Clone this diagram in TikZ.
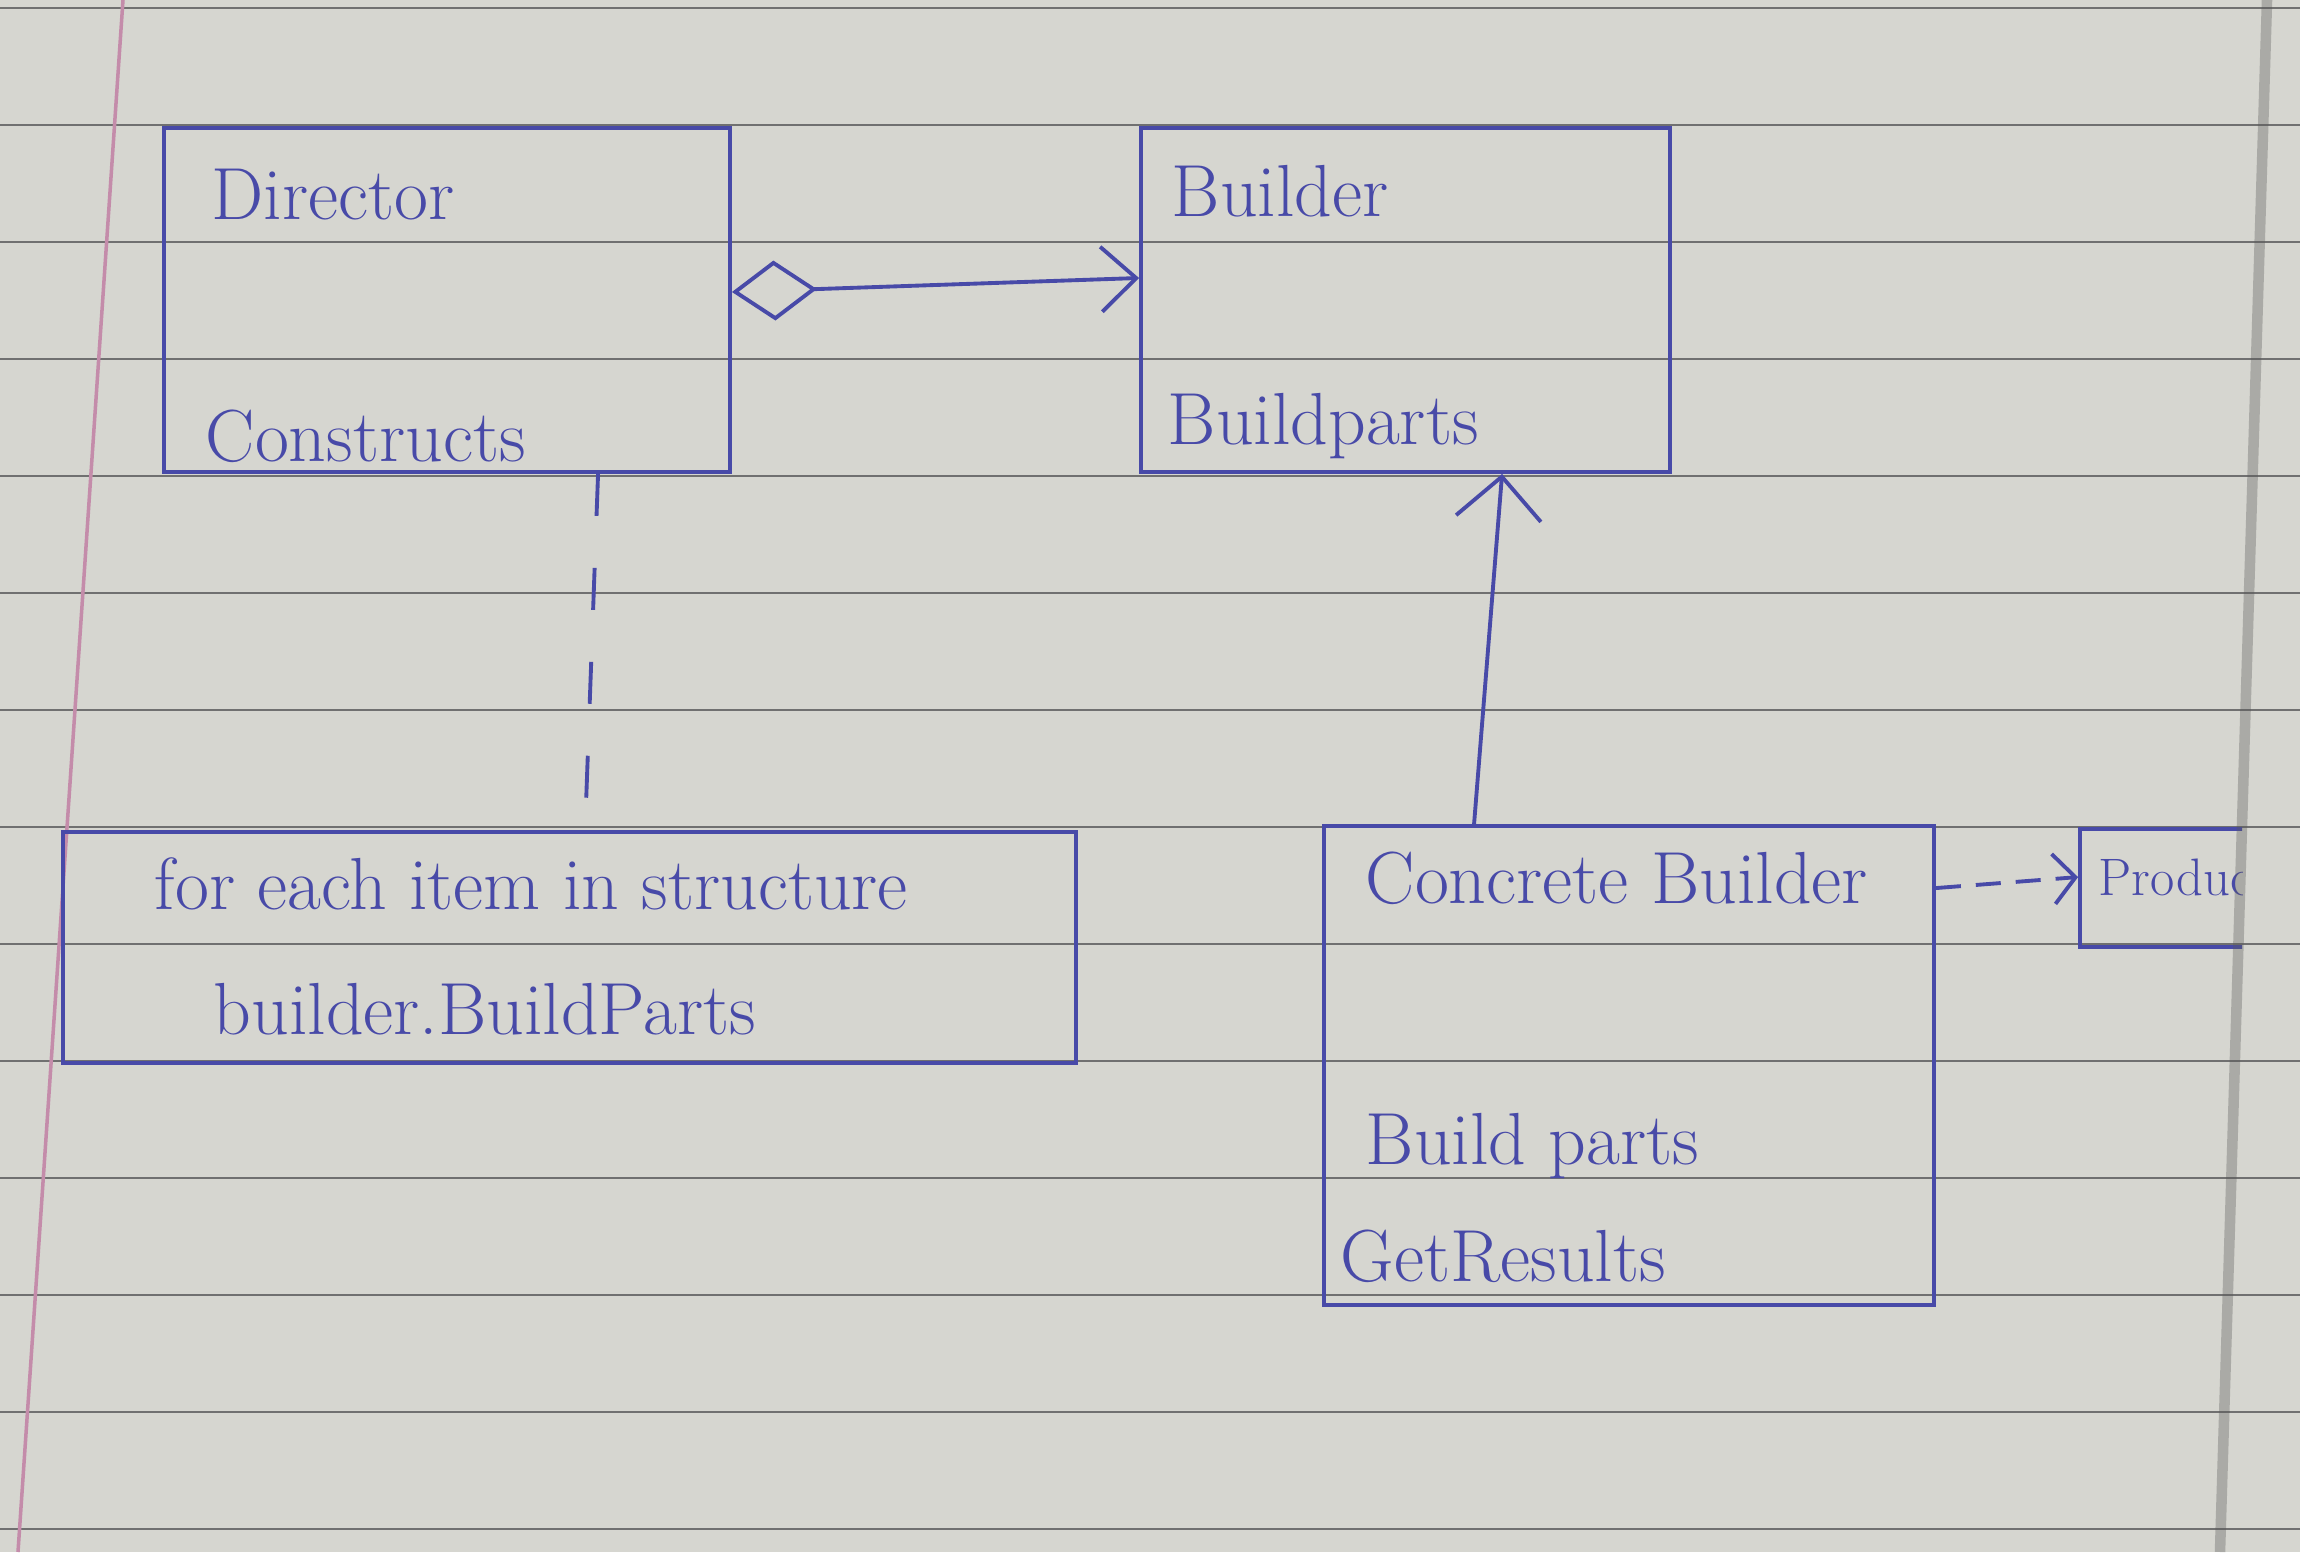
\documentclass[tikz,border=0pt]{standalone}
\usepackage{fontspec}
\usetikzlibrary{arrows.meta,positioning}
\definecolor{ink}{RGB}{72,74,168}
\definecolor{paper}{RGB}{214,214,208}
\definecolor{ruling}{RGB}{112,112,112}
\definecolor{margin}{RGB}{196,140,170}

\begin{document}
\begin{tikzpicture}[
    cls/.style={draw=ink,line width=1.1pt,rectangle,inner sep=0pt},
    lbl/.style={inner sep=0pt,text depth=0pt,text=ink,font=\fontsize{21}{25}\selectfont},
    agg/.style={draw=ink,line width=1.1pt,{Diamond[open,length=8.5mm,width=6mm]}-{Straight Barb[length=3.5mm,width=6.5mm]}},
    gen/.style={draw=ink,line width=1.1pt,-{Straight Barb[length=4.2mm,width=8.5mm]}},
    dep/.style={draw=ink,line width=1.1pt,dash pattern=on 4.2mm off 5.2mm},
    uses/.style={draw=ink,line width=1.1pt,dash pattern=on 2.5mm off 1.5mm,-{Straight Barb[length=2.2mm,width=5mm]}}
    ]

% notebook page
\useasboundingbox (0,0) rectangle (23,15.52);
\fill[paper] (0,0) rectangle (23,15.52);
\foreach \k in {0,...,13}
  \draw[ruling,line width=0.8pt] (0,{15.44-1.17*\k}) -- (23,{15.44-1.17*\k});
\draw[margin,line width=1pt] (1.23,15.52) -- (0.18,0);

\node[cls,minimum width=5.66cm,minimum height=3.44cm] (director) at (4.47,12.52) {};
\node[lbl,below right=0.42cm and 0.49cm of director.north west] (dirname) {Director};
\node[lbl,above right=0.12cm and 0.43cm of director.south west] (construct) {Constructs};

\node[cls,minimum width=5.29cm,minimum height=3.44cm] (builder) at (14.055,12.52) {};
\node[lbl,below right=0.39cm and 0.32cm of builder.north west] (buildername) {Builder};
\node[lbl,above right=0.29cm and 0.28cm of builder.south west] (buildpart) {Buildparts};

\node[cls,minimum width=10.13cm,minimum height=2.31cm] (loop) at (5.695,6.045) {};
\node[lbl,below right=0.27cm and 0.93cm of loop.north west] (loopline) {for each item in structure};
\node[lbl,above right=0.30cm and 1.52cm of loop.south west] (callline) {builder.BuildParts};

\node[cls,minimum width=6.10cm,minimum height=4.79cm] (concrete) at (16.29,4.865) {};
\node[lbl,below right=0.27cm and 0.43cm of concrete.north west] (concretename) {Concrete Builder};
\node[lbl,above right=1.42cm and 0.43cm of concrete.south west] (cbpart) {Build parts};
\node[lbl,above right=0.25cm and 0.18cm of concrete.south west] (cbresult) {GetResults};

% product runs over the fold
\begin{scope}
\clip (20,0) rectangle (22.42,15.52);
\node[cls,minimum width=2.2cm,minimum height=1.18cm] (product) at (21.90,6.64) {};
\node[lbl,font=\fontsize{15}{18}\selectfont,below right=0.31cm and 0.2cm of product.north west] (productname) {Product};
\end{scope}
\draw[gray!70!black,line width=3pt,opacity=0.35] (22.67,15.52) -- (22.20,0);

\draw[agg] ([yshift=0.08cm]director.east) -- ([yshift=0.22cm]builder.west);
\draw[dep] ([xshift=4.36cm]director.south west) -- ([xshift=5.24cm]loop.north west);
\draw[gen] ([xshift=1.52cm]concrete.north west) -- ([xshift=3.63cm]builder.south west);
\draw[uses] ([yshift=-0.64cm]concrete.north east) -- ([yshift=-0.5cm]product.north west);

\end{tikzpicture}
\end{document}
